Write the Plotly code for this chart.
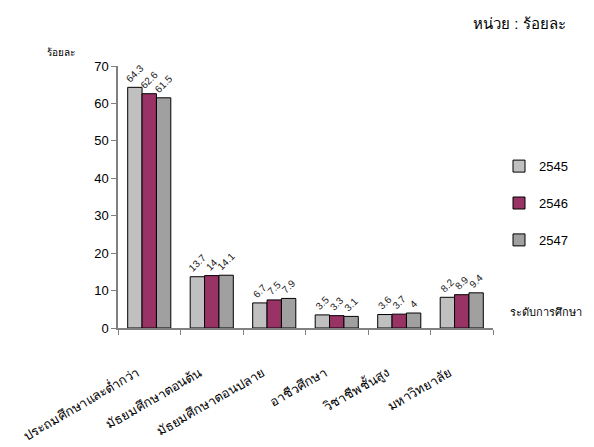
import plotly.graph_objects as go

categories = ["ประถมศึกษาและต่ำกว่า", "มัธยมศึกษาตอนต้น", "มัธยมศึกษาตอนปลาย",
              "อาชีวศึกษา", "วิชาชีพชั้นสูง", "มหาวิทยาลัย"]
years = ["2545", "2546", "2547"]
v2545 = [64.3, 13.7, 6.7, 3.5, 3.6, 8.2]
v2546 = [62.6, 14, 7.5, 3.3, 3.7, 8.9]
v2547 = [61.5, 14.1, 7.9, 3.1, 4, 9.4]
colors = ["#C0C0C0", "#993366", "#A0A0A0"]

font = "Liberation Sans, Arial, sans-serif"
fig = go.Figure()
for i, (y, vals) in enumerate(zip(years, [v2545, v2546, v2547])):
    fig.add_trace(go.Bar(
        x=categories, y=vals, name=y, legendgroup=y,
        marker=dict(color=colors[i], line=dict(color="black", width=1)),
        text=[f"{v:g}" for v in vals], textposition="outside",
        textangle=-45,
        outsidetextfont=dict(size=10, color="#222222", family=font),
        constraintext="none", cliponaxis=False,
    ))

fig.update_layout(
    width=594, height=447,
    margin=dict(l=118, r=101, t=66, b=119, autoexpand=False),
    paper_bgcolor="white", plot_bgcolor="white",
    font=dict(family=font, size=13, color="black"),
    barmode="group", bargap=0.31, bargroupgap=0,
    showlegend=True,
    legend=dict(x=1.016, y=0.675, xanchor="left", yanchor="top",
                tracegroupgap=17, font=dict(size=13),
                itemwidth=30),
)
fig.update_yaxes(range=[0, 70], dtick=10, showgrid=False, showline=True,
                 linecolor="#808080", linewidth=1.5, ticks="outside",
                 ticklen=5, tickcolor="#808080", zeroline=False,
                 tickfont=dict(size=13), automargin=False)
fig.update_xaxes(showgrid=False, showline=True, linecolor="#808080",
                 linewidth=1.5, ticks="outside", tickson="boundaries",
                 ticklen=5, tickcolor="#808080", tickangle=-30,
                 ticklabelstandoff=31, ticklabelshift=-12,
                 tickfont=dict(size=13), automargin=False)

fig.add_annotation(text="หน่วย : ร้อยละ", xref="paper", yref="paper",
                   x=1.2, y=1.164, xanchor="right", yanchor="middle",
                   showarrow=False, font=dict(size=15, color="black"))
fig.add_annotation(text="ร้อยละ", xref="paper", yref="paper",
                   x=-0.195, y=1.05, xanchor="left", yanchor="middle",
                   showarrow=False, font=dict(size=10, color="black"))
fig.add_annotation(text="ระดับการศึกษา", xref="paper", yref="paper",
                   x=1.04, y=0.06, xanchor="left", yanchor="middle",
                   showarrow=False, font=dict(size=11, color="black"))

fig.write_html("out.html")
